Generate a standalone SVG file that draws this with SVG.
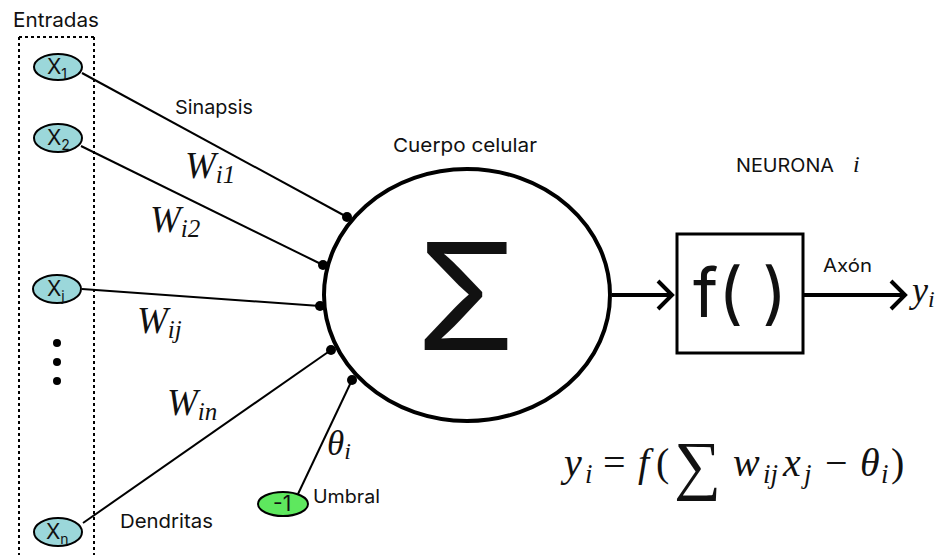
<svg xmlns="http://www.w3.org/2000/svg" width="943" height="555" viewBox="0 0 943 555">
<style>
.lbl{font-family:Inter,"Liberation Sans",sans-serif;fill:#111;}
.math{font-family:"Liberation Serif","DejaVu Serif",serif;font-style:italic;fill:#111;}
.rm{font-family:"Liberation Serif","DejaVu Serif",serif;fill:#111;}
.in{fill:#9bd7da;stroke:#000;stroke-width:2;}
.thr{fill:#5ee85e;stroke:#000;stroke-width:2;}
.xl{font-family:Inter,"Liberation Sans",sans-serif;font-size:21px;fill:#111;}
.dend{stroke:#000;stroke-width:2;fill:none;}
.syn{fill:#000;}
.ax{stroke:#000;stroke-width:4;fill:none;}
</style>
<rect width="943" height="555" fill="#fff"/>
<g id="entradas">
<text class="lbl" x="13" y="27" font-size="20" textLength="86" lengthAdjust="spacingAndGlyphs">Entradas</text>
<path d="M19 37 H94 M19 37 V555 M94 37 V555" fill="none" stroke="#000" stroke-width="2" stroke-dasharray="3,3"/>
</g>
<g id="connectors">
<line class="dend" x1="82" y1="73" x2="347" y2="217"/>
<line class="dend" x1="81" y1="146" x2="323" y2="265"/>
<line class="dend" x1="82" y1="289" x2="320" y2="306"/>
<line class="dend" x1="83" y1="523" x2="331" y2="350"/>
<line class="dend" x1="352" y1="380" x2="298" y2="494"/>
<path class="ax" d="M612 295 H672 M658 281 L672 295 L658 309"/>
<path class="ax" d="M804 295 H905 M891 281 L905 295 L891 309"/>
</g>
<g id="x1"><ellipse class="in" cx="58" cy="67" rx="24" ry="13"/><text class="xl" x="47" y="74">X<tspan font-size="14" dy="5">1</tspan></text></g>
<g id="x2"><ellipse class="in" cx="58" cy="138" rx="24" ry="14"/><text class="xl" x="47" y="145">X<tspan font-size="14" dy="5">2</tspan></text></g>
<g id="xj"><ellipse class="in" cx="57" cy="289" rx="24" ry="14"/><text class="xl" x="47" y="296">X<tspan font-size="14" dy="5">j</tspan></text></g>
<g id="dots"><circle cx="57" cy="343" r="4"/><circle cx="57" cy="362" r="4"/><circle cx="57" cy="381" r="4"/></g>
<g id="xn"><ellipse class="in" cx="58" cy="532" rx="24" ry="14"/><text class="xl" x="46" y="539">X<tspan font-size="14" dy="5">n</tspan></text></g>
<g id="umbral"><ellipse class="thr" cx="283" cy="504" rx="25" ry="12"/><text class="xl" x="273" y="511" font-size="18">-1</text><text class="lbl" x="313" y="503" font-size="18" textLength="67" lengthAdjust="spacingAndGlyphs">Umbral</text></g>
<g id="cuerpo">
<ellipse cx="467" cy="295" rx="143" ry="126" fill="#fff" stroke="#000" stroke-width="4"/>
<text class="lbl" x="466" y="350" font-size="148" text-anchor="middle" fill="#000">Σ</text>
<text class="lbl" x="393" y="152" font-size="19" textLength="144" lengthAdjust="spacingAndGlyphs">Cuerpo celular</text>
<circle class="syn" cx="347" cy="217" r="5"/>
<circle class="syn" cx="323" cy="265" r="5"/>
<circle class="syn" cx="320" cy="306" r="5"/>
<circle class="syn" cx="331" cy="350" r="5"/>
<circle class="syn" cx="352" cy="380" r="5"/>
</g>
<g id="labels">
<text class="lbl" x="175" y="114" font-size="19" textLength="78" lengthAdjust="spacingAndGlyphs">Sinapsis</text>
<text class="lbl" x="120" y="528" font-size="19" textLength="93" lengthAdjust="spacingAndGlyphs">Dendritas</text>
<text class="math" x="185" y="178" font-size="37">W<tspan font-size="25" dy="5">i1</tspan></text>
<text class="math" x="150" y="232" font-size="37">W<tspan font-size="25" dy="5">i2</tspan></text>
<text class="math" x="137" y="333" font-size="37">W<tspan font-size="25" dy="5">ij</tspan></text>
<text class="math" x="167" y="415" font-size="37">W<tspan font-size="25" dy="5">in</tspan></text>
<text class="math" x="327" y="455" font-size="35">θ<tspan font-size="24" dy="4">i</tspan></text>
</g>
<g id="funcion">
<rect x="677" y="234" width="126" height="119" fill="#fff" stroke="#000" stroke-width="3"/>
<text class="lbl" x="740" y="317" font-size="68" text-anchor="middle" fill="#000">f( )</text>
<text class="lbl" x="823" y="272" font-size="18" textLength="49" lengthAdjust="spacingAndGlyphs">Axón</text>
<text class="math" x="912" y="302" font-size="36">y<tspan font-size="24" dy="5">i</tspan></text>
</g>
<g id="neurona">
<text class="lbl" x="736" y="172" font-size="18" textLength="98" lengthAdjust="spacingAndGlyphs">NEURONA</text>
<text class="math" x="853" y="172" font-size="24">i</text>
</g>
<g id="formula">
<text class="math" x="564" y="476" font-size="40">y</text>
<text class="math" x="585" y="483" font-size="27">i</text>
<text class="rm" x="603" y="476" font-size="40">=</text>
<text class="math" x="638" y="476" font-size="40">f</text>
<text class="rm" x="656" y="476" font-size="40">(</text>
<text class="rm" x="674" y="487" font-size="66">∑</text>
<text class="math" x="733" y="476" font-size="40">w</text>
<text class="math" x="763" y="483" font-size="27">ij</text>
<text class="math" x="783" y="476" font-size="40">x</text>
<text class="math" x="804" y="483" font-size="27">j</text>
<text class="rm" x="825" y="476" font-size="40">−</text>
<text class="math" x="860" y="476" font-size="40">θ</text>
<text class="math" x="881" y="483" font-size="27">i</text>
<text class="rm" x="891" y="476" font-size="40">)</text>
</g>
</svg>
